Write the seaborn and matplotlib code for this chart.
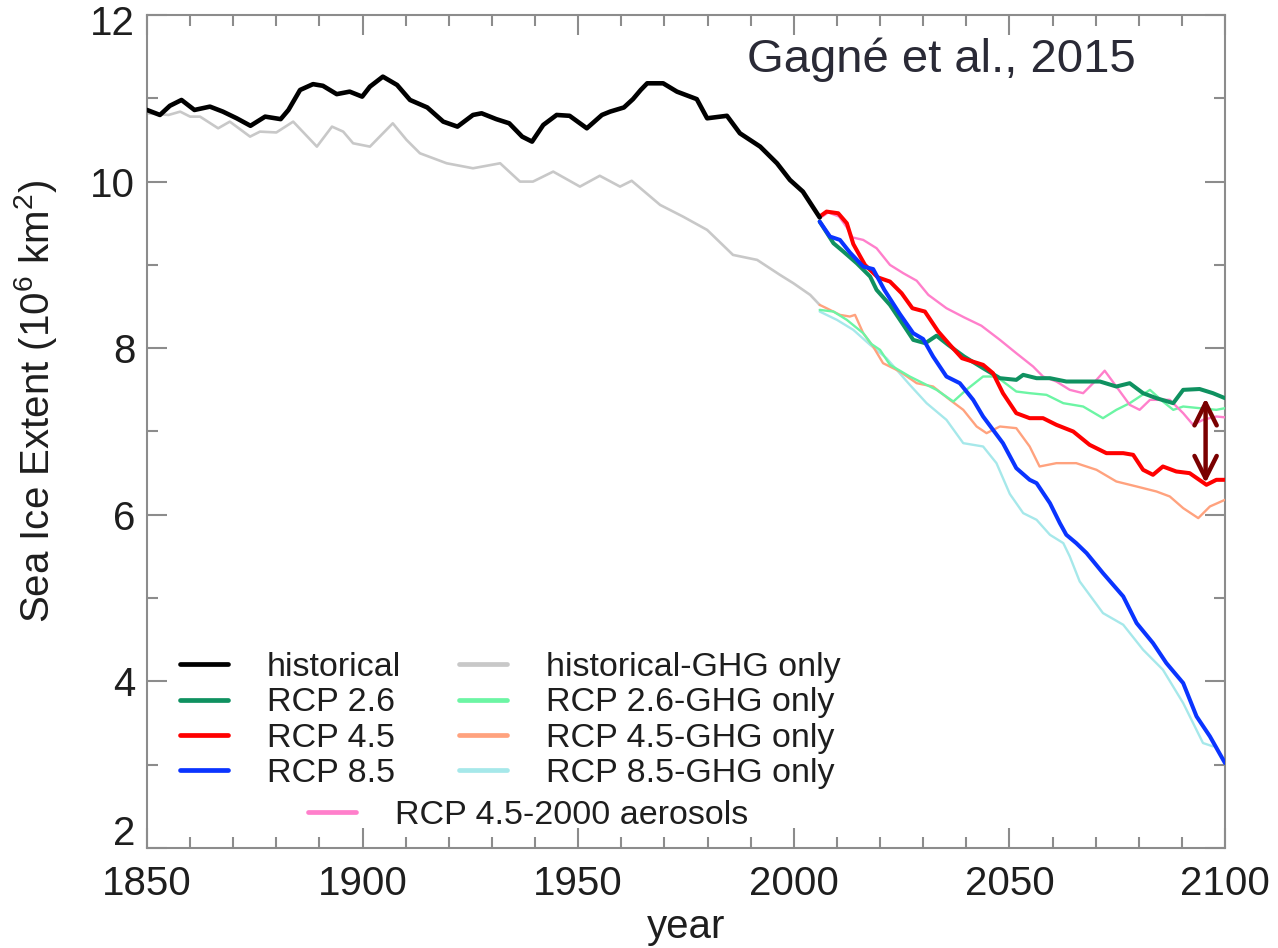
import numpy as np
import pandas as pd
import matplotlib
matplotlib.use("Agg")
import matplotlib.pyplot as plt
from matplotlib.lines import Line2D
from matplotlib.transforms import ScaledTranslation
import seaborn as sns

# ---------------- data ----------------
hist_years = [1850, 1853, 1855.3, 1858, 1861, 1864.6, 1867.6, 1870.8, 1874, 1877.4, 1881, 1882.8,
              1885.5, 1888.5, 1890.8, 1894, 1897, 1899.9, 1901.7, 1904.7, 1908, 1911, 1915, 1918.7,
              1922, 1925.6, 1927.6, 1931, 1934, 1937, 1939.3, 1941.9, 1945, 1948, 1952, 1955.5,
              1957.4, 1960.6, 1962.7, 1964.5, 1966, 1969.7, 1972.9, 1977.5, 1979.9, 1984.5, 1987.5,
              1992.2, 1996.1, 1999.1, 2002.1, 2006]
hist_vals = [10.86, 10.80, 10.91, 10.98, 10.86, 10.90, 10.84, 10.76, 10.67, 10.78, 10.75, 10.86,
             11.10, 11.17, 11.15, 11.05, 11.08, 11.02, 11.14, 11.26, 11.16, 10.98, 10.89, 10.72,
             10.66, 10.80, 10.82, 10.75, 10.70, 10.54, 10.48, 10.68, 10.80, 10.79, 10.64, 10.80,
             10.84, 10.89, 10.99, 11.10, 11.18, 11.18, 11.08, 10.99, 10.76, 10.79, 10.58,
             10.42, 10.22, 10.02, 9.88, 9.57]

ghg_hist_years = [1850, 1855, 1857.7, 1860, 1862.3, 1866.5, 1869.2, 1873.9, 1876.2, 1880, 1883.9,
                  1889.4, 1892.9, 1895.5, 1897.8, 1901.7, 1907, 1910.2, 1913.3, 1919.5, 1925.6,
                  1931.9, 1936.5, 1939.5, 1944.2, 1950.4, 1955, 1959.7, 1962.4, 1969, 1974.3,
                  1979.9, 1985.9, 1991.5, 1996.8, 1999.9, 2003.8, 2006]
ghg_hist_vals = [10.82, 10.80, 10.84, 10.78, 10.78, 10.64, 10.72, 10.54, 10.60, 10.59, 10.72,
                 10.42, 10.66, 10.60, 10.46, 10.42, 10.70, 10.50, 10.34, 10.22, 10.16,
                 10.22, 10.00, 10.00, 10.12, 9.94, 10.07, 9.94, 10.01, 9.72, 9.58,
                 9.42, 9.12, 9.06, 8.88, 8.78, 8.64, 8.52]

rcp26_years = [2006, 2009.2, 2011.5, 2014.6, 2017.7, 2019.2, 2022.3, 2025.4, 2027.7, 2030.5, 2033.1,
               2035.8, 2039.5, 2043.9, 2047.8, 2051.6, 2053.2, 2056.3, 2059.4, 2063.2, 2067.1, 2071,
               2074.8, 2077.9, 2081, 2084.1, 2088, 2090.3, 2094.1, 2097.2, 2100]
rcp26_vals = [9.52, 9.26, 9.16, 9.02, 8.86, 8.70, 8.52, 8.28, 8.10, 8.06, 8.15,
              8.04, 7.90, 7.76, 7.64, 7.62, 7.68, 7.64, 7.64, 7.60, 7.60, 7.60,
              7.54, 7.58, 7.46, 7.40, 7.34, 7.50, 7.51, 7.46, 7.40]

rcp45_years = [2006, 2007.6, 2010.3, 2012.3, 2013.8, 2016.5, 2019.5, 2022.3, 2025, 2027.5, 2030.4,
               2033.5, 2036.2, 2039, 2043.9, 2046.2, 2048.5, 2051.6, 2054.7, 2057.8, 2060.9, 2064.8,
               2068.6, 2072.5, 2076.4, 2078.7, 2081, 2083.3, 2085.6, 2088.7, 2091.8, 2095.7, 2098, 2100]
rcp45_vals = [9.58, 9.64, 9.62, 9.50, 9.25, 9.00, 8.85, 8.80, 8.66, 8.48, 8.44,
              8.20, 8.04, 7.88, 7.80, 7.70, 7.46, 7.22, 7.16, 7.16, 7.08, 7.00,
              6.84, 6.74, 6.74, 6.72, 6.54, 6.48, 6.58, 6.52, 6.50, 6.36, 6.42, 6.42]

rcp85_years = [2006, 2008.4, 2010.7, 2013, 2016.1, 2018.4, 2021, 2024.6, 2027.7, 2030, 2032.3,
               2035.4, 2038.5, 2041.6, 2043.9, 2046.2, 2048.5, 2051.6, 2054.7, 2056.3, 2059.4,
               2061.7, 2063.2, 2065.5, 2067.9, 2071.7, 2076.4, 2079.5, 2083.3, 2086.4, 2090.3,
               2093.4, 2096.5, 2100]
rcp85_vals = [9.52, 9.34, 9.30, 9.15, 8.98, 8.95, 8.70, 8.41, 8.18, 8.11, 7.90,
              7.66, 7.58, 7.38, 7.18, 7.02, 6.86, 6.56, 6.42, 6.38, 6.14,
              5.90, 5.76, 5.66, 5.54, 5.30, 5.02, 4.70, 4.46, 4.22, 3.98,
              3.58, 3.34, 3.02]

ghg26_years = [2006, 2009.2, 2012.3, 2016.1, 2018, 2020, 2022.3, 2026.9, 2030, 2033.1, 2037, 2040,
               2043.9, 2047, 2051.6, 2054.7, 2058.6, 2062.5, 2067.1, 2071.7, 2074.8, 2077.9, 2082.6,
               2085.6, 2088, 2090.3, 2094.1, 2098, 2100]
ghg26_vals = [8.46, 8.44, 8.34, 8.18, 8.05, 7.98, 7.80, 7.66, 7.58, 7.50, 7.36, 7.50,
              7.66, 7.66, 7.48, 7.46, 7.44, 7.34, 7.30, 7.16, 7.26, 7.34, 7.50,
              7.36, 7.26, 7.30, 7.28, 7.26, 7.28]

ghg45_years = [2006, 2007.6, 2010.7, 2013, 2014.2, 2016.1, 2018.4, 2020.7, 2024.6, 2028.5, 2032.3,
               2036.2, 2039.3, 2042.4, 2044.7, 2047.8, 2051.6, 2054.7, 2057, 2060.9, 2065.5, 2070.2,
               2074.8, 2079.5, 2084.1, 2087.2, 2090.3, 2093.8, 2096.5, 2100]
ghg45_vals = [8.52, 8.48, 8.40, 8.38, 8.40, 8.18, 8.02, 7.82, 7.72, 7.58, 7.54,
              7.38, 7.26, 7.06, 6.98, 7.06, 7.04, 6.82, 6.58, 6.62, 6.62, 6.54,
              6.40, 6.34, 6.28, 6.22, 6.08, 5.96, 6.10, 6.18]

ghg85_years = [2006, 2010, 2013.8, 2017.7, 2021.5, 2026.9, 2030.8, 2035.4, 2039.3, 2043.9, 2047,
               2050.1, 2053.2, 2056.3, 2059.4, 2062.5, 2064, 2066.3, 2071.7, 2076.4, 2081, 2085.6,
               2090.3, 2094.9, 2097.2]
ghg85_vals = [8.44, 8.34, 8.22, 8.04, 7.88, 7.56, 7.34, 7.14, 6.86, 6.82, 6.62,
              6.25, 6.02, 5.94, 5.76, 5.66, 5.50, 5.20, 4.82, 4.68, 4.38, 4.14,
              3.74, 3.26, 3.22]

aer_years = [2006, 2008, 2010.5, 2012.3, 2013.6, 2016.1, 2019.2, 2022.3, 2025.4, 2028.5, 2031.2,
             2035.4, 2039.5, 2043.5, 2047.8, 2051.6, 2055.5, 2057.8, 2060.9, 2064, 2067.1, 2070.2,
             2072.1, 2074.8, 2077.9, 2080.2, 2082.6, 2087.2, 2090.3, 2092.6, 2094.9, 2098, 2100]
aer_vals = [9.56, 9.63, 9.58, 9.45, 9.33, 9.30, 9.20, 9.00, 8.90, 8.81, 8.64,
            8.48, 8.37, 8.27, 8.10, 7.94, 7.78, 7.66, 7.60, 7.50, 7.46, 7.62,
            7.73, 7.54, 7.32, 7.26, 7.38, 7.38, 7.22, 7.08, 7.14, 7.18, 7.17]

arrow_year = 2095.5
arrow_top = 7.40
arrow_bottom = 6.38

# label, years, values, colour, linewidth, z-order
series = [
    ("historical-GHG only", ghg_hist_years, ghg_hist_vals, "#c8c8c8", 1.9, 2),
    ("RCP 8.5-GHG only", ghg85_years, ghg85_vals, "#a6e8ea", 1.7, 3),
    ("RCP 4.5-GHG only", ghg45_years, ghg45_vals, "#ffa27e", 1.7, 3),
    ("RCP 2.6-GHG only", ghg26_years, ghg26_vals, "#6cf5a4", 1.7, 3),
    ("RCP 4.5-2000 aerosols", aer_years, aer_vals, "#ff7fcb", 1.7, 4),
    ("RCP 2.6", rcp26_years, rcp26_vals, "#0f9160", 2.9, 5),
    ("RCP 4.5", rcp45_years, rcp45_vals, "#ff0000", 2.9, 6),
    ("RCP 8.5", rcp85_years, rcp85_vals, "#0a34ff", 2.9, 7),
    ("historical", hist_years, hist_vals, "#000000", 3.3, 8),
]

# ---------------- styling ----------------
sns.set_style("white")
plt.rcParams["font.family"] = ["Liberation Sans", "DejaVu Sans"]
plt.rcParams["mathtext.fontset"] = "custom"
plt.rcParams["mathtext.rm"] = "Liberation Sans"

fig = plt.figure(figsize=(12.78, 9.48), dpi=100)
ax = fig.add_axes([147 / 1278, 1 - 848 / 948, 1078 / 1278, 833 / 948])

colors = {}
for label, yrs, vals, col, lw, z in series:
    df = pd.DataFrame({"year": yrs, "extent": vals})
    sns.lineplot(data=df, x="year", y="extent", ax=ax, color=col, linewidth=lw,
                 estimator=None, sort=False, zorder=z)
    colors[label] = col

ax.set_xlim(1850, 2100)
ax.set_ylim(2, 12)
ax.set_xticks(np.arange(1850, 2101, 50))
ax.set_xticks(np.arange(1850, 2101, 10), minor=True)
ax.set_yticks(np.arange(2, 13, 2))
ax.set_yticks(np.arange(2, 13, 1), minor=True)

tick_col = "#8c8c8c"
ax.tick_params(which="both", direction="in", top=True, right=True, bottom=True, left=True,
               color=tick_col, width=1.5, labelsize=29, labelcolor="#1e1e1e")
ax.tick_params(which="major", length=14.5)
ax.tick_params(which="minor", length=8)
ax.tick_params(axis="x", which="major", pad=12)
ax.tick_params(axis="y", which="major", pad=8.5)
for sp in ax.spines.values():
    sp.set_color(tick_col)
    sp.set_linewidth(1.5)

# nudge first / last y tick labels as in the reference
fig.canvas.draw()
ylabels = ax.get_yticklabels()
ylabels[0].set_transform(ylabels[0].get_transform() + ScaledTranslation(0, 18 / 100, fig.dpi_scale_trans))
ylabels[-1].set_transform(ylabels[-1].get_transform() + ScaledTranslation(0, -5 / 100, fig.dpi_scale_trans))

ax.set_xlabel("year", fontsize=29, color="#1e1e1e")
ax.set_ylabel("Sea Ice Extent (10$\\mathregular{^6}$ km$\\mathregular{^2}$)", fontsize=29, color="#1e1e1e")
ax.xaxis.set_label_coords(0.5, -0.072)
ax.yaxis.set_label_coords(-0.082, 0.536)

# annotation
ax.text(0.557, 0.931, "Gagné et al., 2015", transform=ax.transAxes, fontsize=34,
        color="#2a2a36", ha="left", va="baseline", zorder=10)
ax.annotate("", xy=(arrow_year, arrow_top), xytext=(arrow_year, arrow_bottom),
            arrowprops=dict(arrowstyle="<->,head_length=0.4,head_width=0.2", color="#7a0000",
                            lw=3.2, mutation_scale=40, shrinkA=0, shrinkB=0), zorder=11)

# legends
def handle(label):
    return Line2D([0], [0], color=colors[label], linewidth=3.4)

order = ["historical", "RCP 2.6", "RCP 4.5", "RCP 8.5",
         "historical-GHG only", "RCP 2.6-GHG only", "RCP 4.5-GHG only", "RCP 8.5-GHG only"]
leg1 = ax.legend([handle(l) for l in order], order, ncol=2, frameon=False,
                 loc="upper left", bbox_to_anchor=(180 / 1278, 1 - 652 / 948),
                 bbox_transform=fig.transFigure, fontsize=24.5, borderpad=0, borderaxespad=0,
                 handlelength=1.41, handletextpad=1.15, columnspacing=1.68, labelspacing=0.13,
                 labelcolor="#1e1e1e")
ax.add_artist(leg1)
ax.legend([handle("RCP 4.5-2000 aerosols")], ["RCP 4.5-2000 aerosols"], frameon=False,
          loc="upper left", bbox_to_anchor=(308 / 1278, 1 - 800 / 948),
          bbox_transform=fig.transFigure, fontsize=24.5, borderpad=0, borderaxespad=0,
          handlelength=1.41, handletextpad=1.15, labelcolor="#1e1e1e")

fig.savefig("out.png", dpi=100)
